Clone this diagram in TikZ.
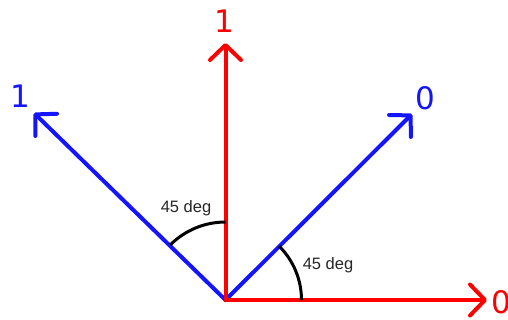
\documentclass[tikz,border=0pt]{standalone}
\usepackage{fontspec}
\setmainfont{DejaVu Sans}
\newfontfamily\lblfont{Liberation Sans}
\usetikzlibrary{arrows.meta}
\definecolor{vred}{RGB}{255,0,0}
\definecolor{vblue}{RGB}{20,20,255}
\tikzset{
  vec/.style={line width=4pt, line cap=round, -{Straight Barb[length=15pt,width=31pt,round]}},
  biglbl/.style={font=\fontsize{31}{31}\selectfont, inner sep=0pt},
  anglelbl/.style={font=\lblfont\fontsize{16.5}{16.5}\selectfont, inner sep=0pt, text=black!85},
  anglearc/.style={line width=3pt, black}
}
\begin{document}
\begin{tikzpicture}[x=1pt,y=-1pt]
\useasboundingbox (0,0) rectangle (508,320);
\coordinate (O) at (225.5,300);
\coordinate (tUp) at (225.5,43);
\coordinate (tRight) at (487,300);
\coordinate (tUL) at (34,113);
\coordinate (tUR) at (412,114);
\coordinate (arcL) at (170.35,244.85);
\coordinate (arcR) at (279.24,246.26);
% blue vectors
\draw[vec, vblue] (O) -- (tUL);
\draw[vec, vblue] (O) -- (tUR);
% red vectors
\draw[vec, vred] (O) -- (tUp);
\draw[vec, vred] (O) -- (tRight);
% angle arcs
\draw[anglearc] (arcL) arc[start angle=-135, end angle=-90, radius=78];
\draw[anglearc] (arcR) arc[start angle=-45, end angle=0, radius=76];
% labels
\node[biglbl, text=vred] (lUp) at (224,21) {1};
\node[biglbl, text=vred] (lRight) at (501,302) {0};
\node[biglbl, text=vblue] (lUL) at (20,96) {1};
\node[biglbl, text=vblue] (lUR) at (425,98) {0};
\node[anglelbl] (a1) at (186,208) {45 deg};
\node[anglelbl] (a2) at (328,265) {45 deg};
\end{tikzpicture}
\end{document}
